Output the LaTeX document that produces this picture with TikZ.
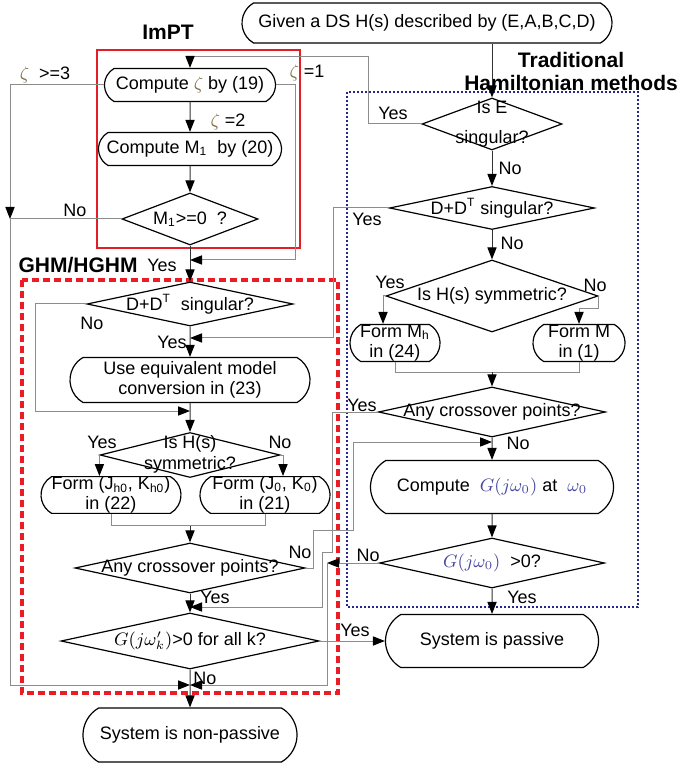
\documentclass[tikz,border=0pt]{standalone}
\usepackage{fontspec}
\setmainfont{Liberation Sans}
\usetikzlibrary{shapes.geometric,shapes.misc,arrows.meta,calc}

\definecolor{imptrot}{RGB}{228,30,38}
\definecolor{ghmrot}{RGB}{236,28,36}
\definecolor{hamblau}{RGB}{38,38,140}
\definecolor{zetafarbe}{RGB}{130,110,70}
\definecolor{gfarbe}{RGB}{70,70,160}

\tikzstyle{term}=[rounded rectangle, rounded rectangle arc length=120, draw=black, line width=0.6pt, inner sep=0pt, align=center, font=\fontsize{9}{10}\selectfont]
\tikzstyle{raute}=[diamond, draw=black, line width=0.6pt, inner sep=0pt, font=\fontsize{9}{10.5}\selectfont]
\tikzstyle{lab}=[inner sep=1pt, font=\fontsize{9}{10.5}\selectfont]
\tikzstyle{titel}=[inner sep=0pt, align=center, font=\fontsize{10.5}{11.5}\selectfont\bfseries]
\tikzstyle{leitung}=[black!45, line width=0.5pt]
\tikzstyle{pfeil}=[->, black!80, line width=0.5pt]
\tikzstyle{rotrahmen}=[imptrot, line width=1.3pt]
\tikzstyle{ghmrahmen}=[ghmrot, line width=2pt, dash pattern=on 3.5pt off 2pt]
\tikzstyle{blaurahmen}=[hamblau, line width=1.2pt, dash pattern=on 1pt off 1pt]

\newcommand{\zt}{\textcolor{zetafarbe}{$\zeta$}}
\newcommand{\mitte}[1]{\makebox[0pt]{#1}}
\newcommand{\zeilen}[2]{\makebox[0pt]{\begin{tabular}{@{}c@{}}#1\\#2\end{tabular}}}

\begin{document}
\begin{tikzpicture}[x=0.5pt, y=-0.5pt, >={Triangle[length=6pt,width=4.6pt,color=black]}]

	\useasboundingbox (0,0) rectangle (681,763);

	% Rahmen
	\draw[rotrahmen] (97,50) rectangle (300,248);
	\draw[ghmrahmen] (22,280) rectangle (338,693);
	\draw[blaurahmen] (347,92) rectangle (638,607);

	\node(tImPT) at (168,32) [titel] {ImPT};
	\node(tGHM) at (78,265) [titel] {GHM/HGHM};
	\node(tHam) at (571,72) [titel] {Traditional\\Hamiltonian methods};

	% Rechte Spalte
	\node(start) at (427,23) [term, minimum width=185pt, minimum height=20pt] {Given a DS H(s) described by (E,A,B,C,D)};
	\node(isE) at (492,124) [raute, minimum width=70pt, minimum height=26pt] {\zeilen{Is E}{\rule{0pt}{12pt}singular?}};
	\node(ddR) at (492,208) [raute, minimum width=102.5pt, minimum height=21.5pt] {\mitte{D+D\textsuperscript{T} singular?}};
	\node(symR) at (492,296) [raute, minimum width=106pt, minimum height=36pt] {\mitte{Is H(s) symmetric?}};
	\node(MhR) at (395,343) [term, minimum width=45pt, minimum height=18.5pt] {Form M\textsubscript{h}\\in (24)};
	\node(MR) at (579,343) [term, minimum width=46pt, minimum height=18.5pt] {Form M\\in (1)};
	\node(crossR) at (492,412) [raute, minimum width=113.5pt, minimum height=25pt] {\mitte{Any crossover points?}};
	\node(compG) at (492,487) [term, minimum width=121.5pt, minimum height=26.5pt] {Compute\ \ \textcolor{gfarbe}{$G(j\omega_0)$} at\ \ \textcolor{gfarbe}{$\omega_0$}};
	\node(g0) at (492,563) [raute, minimum width=112.5pt, minimum height=25pt] {\mitte{\textcolor{gfarbe}{$G(j\omega_0)$}\ \ >0?}};
	\node(pass) at (492,641) [term, minimum width=106.5pt, minimum height=26.5pt] {System is passive};

	% Linke Spalte
	\node(zeta) at (190,85) [term, minimum width=85.5pt, minimum height=16.5pt] {Compute \zt\ by (19)};
	\node(M1) at (190,149) [term, minimum width=91.5pt, minimum height=16.5pt] {Compute M\textsubscript{1}\ \ by (20)};
	\node(m1) at (190,219) [raute, minimum width=68pt, minimum height=26pt] {\mitte{M\textsubscript{1}>=0\ \ ?}};
	\node(ddL) at (190,304) [raute, minimum width=103pt, minimum height=22pt] {\mitte{D+D\textsuperscript{T}\ \ singular?}};
	\node(conv) at (190,380) [term, minimum width=120pt, minimum height=22.5pt] {Use equivalent model\\conversion in (23)};
	\node(symL) at (190,455) [raute, minimum width=90pt, minimum height=22.5pt] {\zeilen{Is H(s)}{symmetric?}};
	\node(Jh) at (111,495) [term, minimum width=68.5pt, minimum height=18pt] {Form (J\textsubscript{h0}, K\textsubscript{h0})\\in (22)};
	\node(J0) at (265,495) [term, minimum width=65pt, minimum height=18pt] {Form (J\textsubscript{0}, K\textsubscript{0})\\in (21)};
	\node(crossL) at (190,568) [raute, minimum width=115pt, minimum height=25pt] {\mitte{Any crossover points?}};
	\node(gk) at (190,641) [raute, minimum width=129pt, minimum height=28pt] {\mitte{$G(j\omega'_k)$>0 for all k?}};
	\node(nonpass) at (190,735) [term, minimum width=107pt, minimum height=27pt] {System is non-passive};

	% Knotenpunkte
	\coordinate(jL) at (10,219);
	\coordinate(jZ) at (190,260);
	\coordinate(jDD) at (190,338);
	\coordinate(jEq) at (190,411);
	\coordinate(jC) at (492,442);
	\coordinate(jG) at (327,563);
	\coordinate(jK) at (190,607);
	\coordinate(jNP) at (190,685);

	% Verbindungen rechts
	\draw[pfeil] (start.south -| isE.north) -- (isE.north);
	\draw[leitung, ->] (isE.west) -| (368,57) -| (zeta.north);
	\draw[pfeil] (isE) -- (ddR);
	\draw[leitung, ->] (ddR.west) -| (333,338) -- (jDD);
	\draw[pfeil] (ddR) -- (symR);
	\draw[leitung, ->] (symR.west) -| ($(MhR.north)+(-12,0)$);
	\draw[leitung, ->] (symR.east) |- ($(MR.north)+(0,-15)$) -- (MR.north);
	\draw[leitung] (MhR.south) -- ++(0,10) -| (MR.south);
	\draw[pfeil] ($(crossR.north |- MhR.south)+(0,10)$) -- (crossR.north);
	\draw[leitung, ->] (crossR.west) -| (332,552) -| (322,607) -- (jK);
	\draw[pfeil] (crossR) -- (compG);
	\draw[pfeil] (compG) -- (g0);
	\draw[leitung, ->] (g0.west) -- (jG);
	\draw[leitung, ->] (jG) |- (jNP);
	\draw[pfeil] (g0) -- (pass);

	% Verbindungen links
	\draw[pfeil] (zeta) -- (M1);
	\draw[leitung, ->] (zeta.west) -| (jL);
	\draw[leitung] (m1.west) -- (jL);
	\draw[leitung, ->] (jL) |- (jNP);
	\draw[leitung, ->] (zeta.east) -| (295,260) -- (jZ);
	\draw[pfeil] (M1) -- (m1);
	\draw[pfeil] (m1) -- (ddL);
	\draw[leitung, ->] (ddL.west) -| (35,411) -- (jEq);
	\draw[pfeil] (ddL) -- (conv);
	\draw[pfeil] (conv) -- (symL);
	\draw[leitung, ->] (symL.west) -- (symL.west |- Jh.north);
	\draw[leitung, ->] (symL.east) -| ($(J0.north)+(18,0)$);
	\draw[leitung] (Jh.south) -- ++(0,12) -| (J0.south);
	\draw[pfeil] ($(crossL.north |- Jh.south)+(0,12)$) -- (crossL.north);
	\draw[leitung, ->] (crossL.east) -- ++(8,0) |- (353,530) |- (jC);
	\draw[pfeil] (crossL) -- (gk);
	\draw[leitung, ->] (gk.east) -- (pass.west);
	\draw[pfeil] (gk) -- (nonpass);

	% Beschriftungen
	\node(lZ3) at (45,75) [lab] {\zt\ \ >=3};
	\node(lZ1) at (307,73) [lab] {\zt\ =1};
	\node(lZ2) at (228,122) [lab] {\zt\ =2};
	\node(lNoM) at (75,210) [lab] {No};
	\node(lYesM) at (162,265) [lab] {Yes};
	\node(lNoDL) at (92,323) [lab] {No};
	\node(lYesDL) at (172,342) [lab] {Yes};
	\node(lYesSL) at (102,442) [lab] {Yes};
	\node(lNoSL) at (280,442) [lab] {No};
	\node(lNoCL) at (300,552) [lab] {No};
	\node(lYesCL) at (215,597) [lab] {Yes};
	\node(lNoGK) at (205,678) [lab] {No};
	\node(lYesGK) at (355,630) [lab] {Yes};
	\node(lYesE) at (393,113) [lab] {Yes};
	\node(lNoE) at (510,168) [lab] {No};
	\node(lYesDR) at (367,219) [lab] {Yes};
	\node(lNoDR) at (512,243) [lab] {No};
	\node(lYesSR) at (390,282) [lab] {Yes};
	\node(lNoSR) at (595,285) [lab] {No};
	\node(lYesCR) at (362,405) [lab] {Yes};
	\node(lNoCR) at (518,443) [lab] {No};
	\node(lNoG) at (368,555) [lab] {No};
	\node(lYesG) at (522,597) [lab] {Yes};

\end{tikzpicture}
\end{document}
